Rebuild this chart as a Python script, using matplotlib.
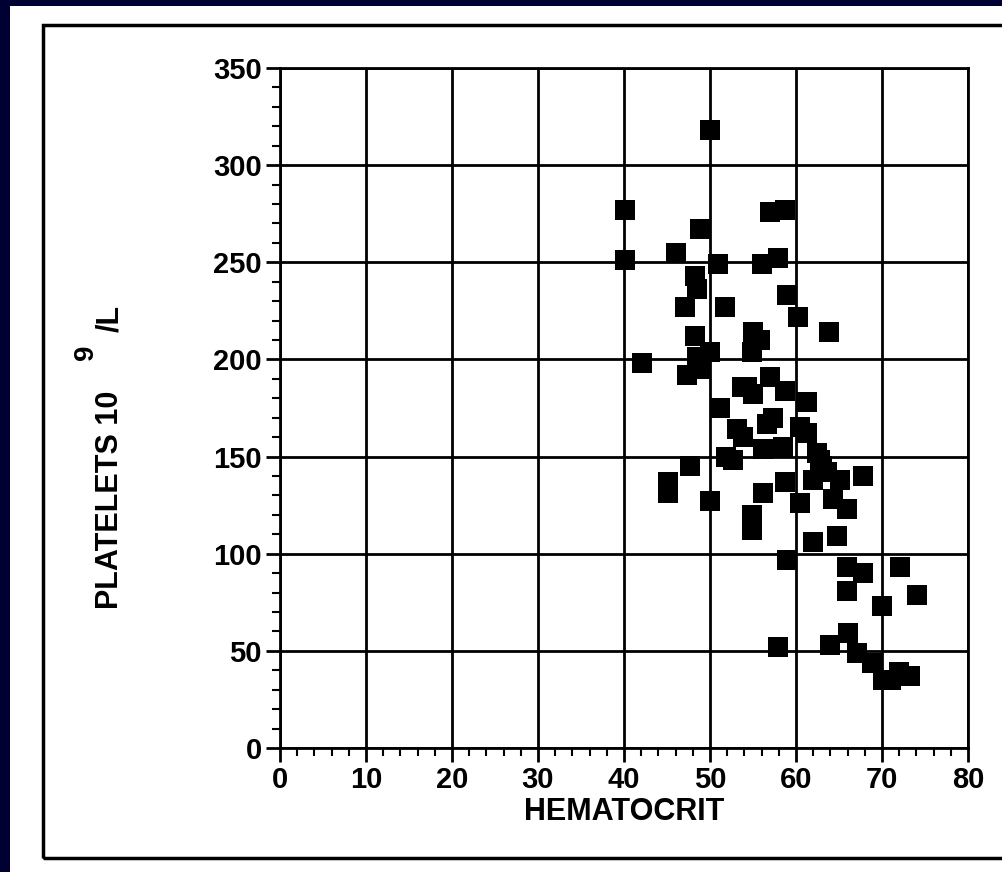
import matplotlib.pyplot as plt
from matplotlib.patches import Rectangle
from matplotlib.ticker import MultipleLocator

plt.rcParams['font.family'] = ['Liberation Sans', 'DejaVu Sans']

# hematocrit (%) and platelets (10^9/L)
hematocrit = [50.0, 40.1, 40.1, 46.0, 48.8, 50.9, 48.3, 57.0, 58.7, 56.0,
              57.9, 59.0, 47.1, 51.7, 60.2, 63.8, 42.1, 48.3, 48.5, 50.0,
              47.3, 48.8, 55.0, 55.8, 54.9, 54.3, 55.0, 57.0, 58.7, 57.3,
              56.6, 61.3, 51.2, 53.1, 53.8, 52.7, 51.9, 56.2, 58.5, 61.3,
              60.5, 62.4, 62.8, 63.6, 62.0, 65.1, 67.8, 64.3, 65.9, 60.5,
              47.7, 45.1, 45.1, 50.0, 54.9, 54.9, 56.2, 58.7, 62.0, 64.8,
              58.9, 65.9, 67.8, 72.1, 74.1, 65.9, 70.0, 57.9, 64.0, 66.0,
              67.1, 68.8, 70.1, 72.0, 73.3, 71.0, 48.5, 53.7, 63.0]
platelets = [318, 277, 251, 255, 267, 249, 243, 276, 277, 249,
             252, 233, 227, 227, 222, 214, 198, 212, 201, 204,
             192, 195, 214, 210, 204, 186, 182, 191, 184, 170,
             167, 178, 175, 164, 160, 148, 150, 154, 155, 162,
             165, 152, 148, 142, 138, 138, 140, 128, 123, 126,
             145, 137, 131, 127, 120, 112, 131, 137, 106, 109,
             97, 93, 90, 93, 79, 81, 73, 52, 53, 59,
             49, 44, 35, 39, 37, 35, 236, 186, 145]

fig = plt.figure(figsize=(10.02, 8.72), dpi=100, facecolor='#000033')
# white slide panel with a black frame (behind the axes)
fig.patches.append(Rectangle((10 / 1002, 0), 1, 1 - 6 / 872, transform=fig.transFigure,
                             facecolor='white', edgecolor='none', zorder=-2))
fig.patches.append(Rectangle((43 / 1002, 14 / 872), 1.0, 1 - 39 / 872, transform=fig.transFigure,
                             facecolor='none', edgecolor='black', linewidth=2.5, zorder=-1))

ax = fig.add_axes([280 / 1002, 1 - 748 / 872, 688 / 1002, 680 / 872])
ax.set_facecolor('white')
ax.scatter(hematocrit, platelets, marker='s', s=220, color='black', linewidths=0, zorder=3)

ax.set_xlim(0, 80)
ax.set_ylim(0, 350)
ax.xaxis.set_major_locator(MultipleLocator(10))
ax.xaxis.set_minor_locator(MultipleLocator(2))
ax.yaxis.set_major_locator(MultipleLocator(50))
ax.yaxis.set_minor_locator(MultipleLocator(10))
ax.grid(True, which='major', color='black', linewidth=2)
for s in ax.spines.values():
    s.set_linewidth(2)

ax.tick_params(which='major', direction='out', length=10, width=2, labelsize=21, pad=3)
ax.tick_params(which='minor', direction='out', length=6, width=1.5)
for lab in ax.get_xticklabels() + ax.get_yticklabels():
    lab.set_fontweight('bold')

ax.set_xlabel('HEMATOCRIT', fontsize=22, fontweight='bold', labelpad=2)
# y label: "PLATELETS 10", raised "9", then "/L"
fig.text(110 / 1002, 1 - 500 / 872, 'PLATELETS 10', rotation=90,
         fontsize=22, fontweight='bold', ha='center', va='center')
fig.text(86 / 1002, 1 - 352 / 872, '9', rotation=90,
         fontsize=20, fontweight='bold', ha='center', va='center')
fig.text(110 / 1002, 1 - 318 / 872, '/L', rotation=90,
         fontsize=22, fontweight='bold', ha='center', va='center')

fig.savefig('out.png', dpi=100, facecolor=fig.get_facecolor())
